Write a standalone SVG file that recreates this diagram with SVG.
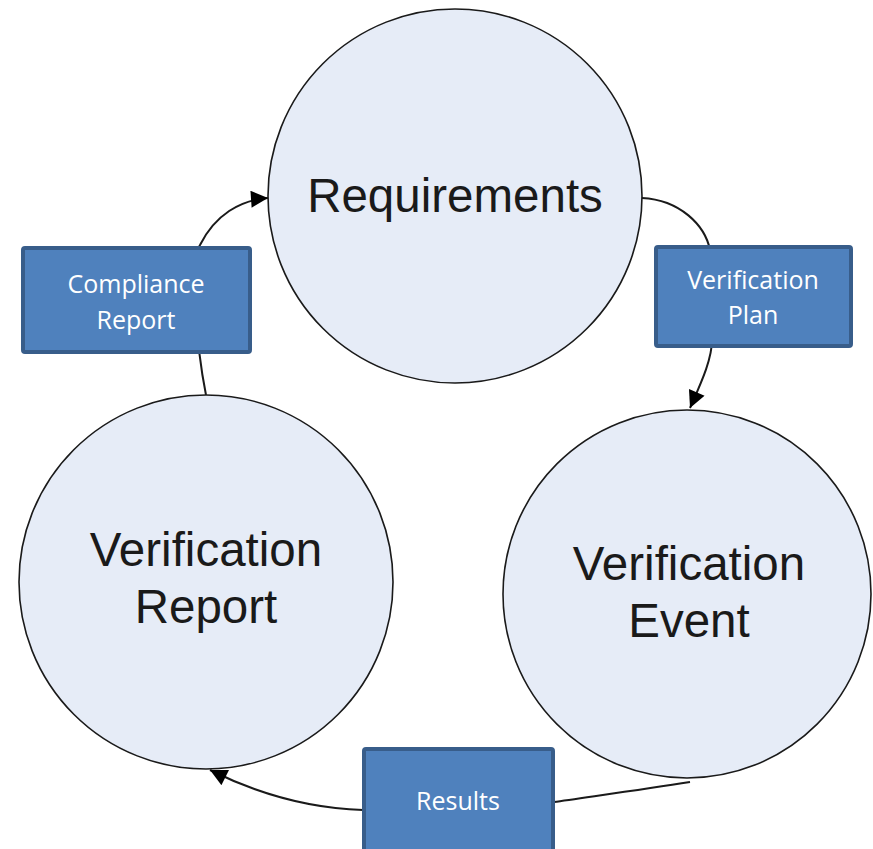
<svg xmlns="http://www.w3.org/2000/svg" width="873" height="849" viewBox="0 0 873 849">
<style>
.circ{fill:#e6ecf7;stroke:#1a1a1a;stroke-width:1.6}
.big{font-family:"Liberation Sans",Arial,sans-serif;font-size:47.5px;fill:#1a1a1a;text-anchor:middle}
.box{fill:#4f81bd;stroke:#385d8a;stroke-width:4}
.lbl{font-family:"Open Sans","Noto Sans",sans-serif;font-size:25px;fill:#ffffff;text-anchor:middle}
.con{fill:none;stroke:#1a1a1a;stroke-width:2}
</style>
<defs>
<marker id="arr" viewBox="0 0 10 10" refX="10" refY="5" markerWidth="19" markerHeight="17" markerUnits="userSpaceOnUse" orient="auto">
<path d="M0,0 L10,5 L0,10 z" fill="#000"/>
</marker>
</defs>
<g id="connectors">
<path class="con" d="M206,395 C196,345 190,260 200,245 C215,215 240,200 268,198" marker-end="url(#arr)"/>
<path class="con" d="M642,198 C680,200 705,225 710,250 L712,340 C712,360 700,385 690,408" marker-end="url(#arr)"/>
<path class="con" d="M690,782 C640,790 580,798 554,802 L363,810 C300,808 250,790 210,770" marker-end="url(#arr)"/>
</g>
<g id="requirements">
<circle class="circ" cx="455" cy="196" r="187"/>
<text class="big" x="455" y="212">Requirements</text>
</g>
<g id="verification-report">
<circle class="circ" cx="206" cy="582" r="187"/>
<text class="big" x="206" y="566">Verification</text>
<text class="big" x="206" y="623">Report</text>
</g>
<g id="verification-event">
<circle class="circ" cx="687" cy="594" r="184"/>
<text class="big" x="689" y="580">Verification</text>
<text class="big" x="689" y="637">Event</text>
</g>
<g id="compliance-report">
<rect class="box" x="23" y="248" width="227" height="104" rx="2"/>
<text class="lbl" x="136" y="293">Compliance</text>
<text class="lbl" x="136" y="329">Report</text>
</g>
<g id="verification-plan">
<rect class="box" x="656" y="247" width="195" height="99" rx="2"/>
<text class="lbl" x="753" y="289">Verification</text>
<text class="lbl" x="753" y="324">Plan</text>
</g>
<g id="results">
<rect class="box" x="364" y="749" width="189" height="104" rx="2"/>
<text class="lbl" x="458" y="810">Results</text>
</g>
</svg>
